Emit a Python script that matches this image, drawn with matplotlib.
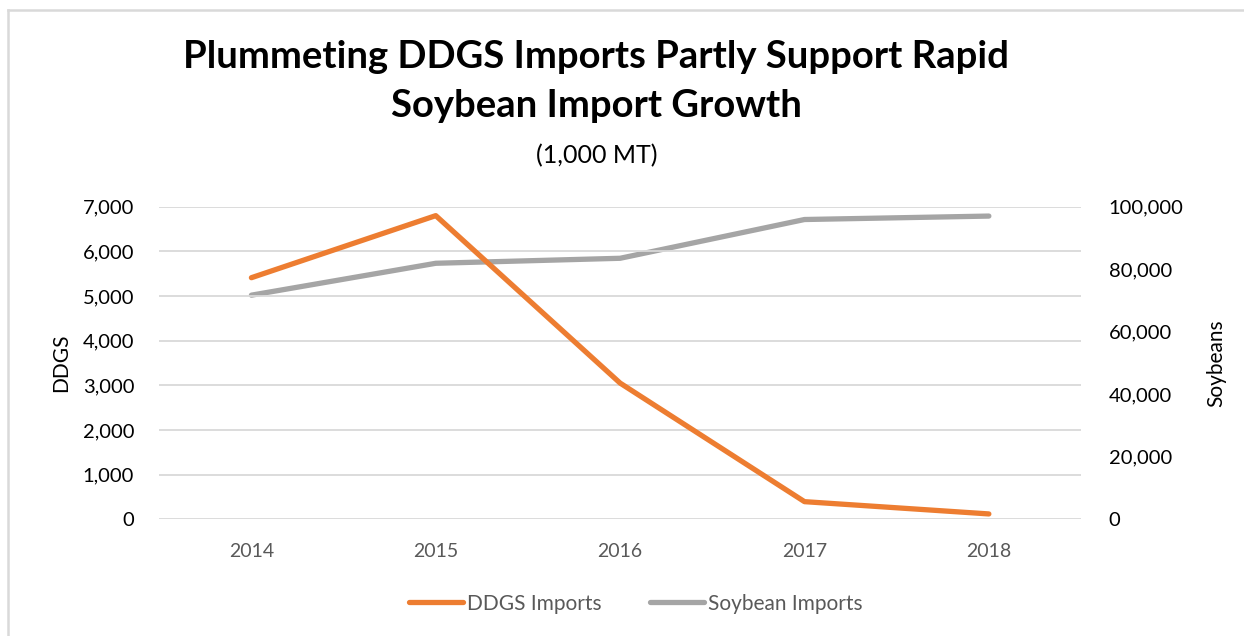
import matplotlib
matplotlib.use("Agg")
import matplotlib.pyplot as plt
from matplotlib.lines import Line2D
from matplotlib.ticker import FuncFormatter, MultipleLocator

years = ["2014", "2015", "2016", "2017", "2018"]
ddgs = [5410, 6800, 3050, 395, 120]
soy = [71700, 81900, 83500, 95900, 97000]

ORANGE = "#ED7D31"
GRAY = "#A5A5A5"
GRID = "#D9D9D9"
FONT = "Lato"

plt.rcParams["font.family"] = [FONT, "DejaVu Sans"]

fig = plt.figure(figsize=(12.44, 6.36), dpi=100)
ax = fig.add_axes([0.128, 0.1835, 0.741, 0.4915])
ax2 = ax.twinx()

x = list(range(len(years)))
l1, = ax.plot(x, ddgs, color=ORANGE, lw=3.8, solid_capstyle="round", solid_joinstyle="round", label="DDGS Imports", zorder=3)
l2, = ax2.plot(x, soy, color=GRAY, lw=3.8, solid_capstyle="round", solid_joinstyle="round", label="Soybean Imports", zorder=2)

ax.set_zorder(ax2.get_zorder() + 1)
ax.patch.set_visible(False)

ax.set_xlim(-0.5, 4.5)
ax.set_ylim(0, 7000)
ax2.set_ylim(0, 100000)
ax.yaxis.set_major_locator(MultipleLocator(1000))
ax2.yaxis.set_major_locator(MultipleLocator(20000))
fmt = FuncFormatter(lambda v, p: f"{int(v):,}")
ax.yaxis.set_major_formatter(fmt)
ax2.yaxis.set_major_formatter(fmt)
ax.set_xticks(x)
ax.set_xticklabels(years)

ax2.grid(False)
ax.grid(False)
for v in range(0, 7001, 1000):
    ax.axhline(v, color=GRID, lw=1.3, zorder=0)

for a in (ax, ax2):
    for s in a.spines.values():
        s.set_visible(False)
    a.tick_params(length=0, labelsize=14.5, colors="#000000")
ax.tick_params(axis="x", labelcolor="#595959", labelsize=14, pad=17)
ax.tick_params(axis="y", pad=18)
ax2.tick_params(axis="y", pad=20)

ax.set_ylabel("DDGS", fontsize=15, labelpad=8)
ax2.set_ylabel("Soybeans", fontsize=15, labelpad=16)

fig.text(0.4795, 0.91, "Plummeting DDGS Imports Partly Support Rapid", ha="center", va="center",
         fontsize=27.5, fontweight="bold")
fig.text(0.4795, 0.834, "Soybean Import Growth", ha="center", va="center",
         fontsize=27.5, fontweight="bold")
fig.text(0.4795, 0.755, "(1,000 MT)", ha="center", va="center", fontsize=18)

fig.legend(handles=[l1, l2], loc="center", bbox_to_anchor=(0.511, 0.051), ncol=2, frameon=False,
           fontsize=15, handlelength=2.6, handletextpad=0.2, columnspacing=2.3,
           labelcolor="#595959")

fig.add_artist(Line2D([0.0065, 1.0], [0.984, 0.984], transform=fig.transFigure, color="#D9D9D9", lw=1.8))
fig.add_artist(Line2D([0.0065, 0.0065], [0.0, 0.984], transform=fig.transFigure, color="#D9D9D9", lw=1.8))

fig.savefig("out.png", dpi=100, facecolor="white")
